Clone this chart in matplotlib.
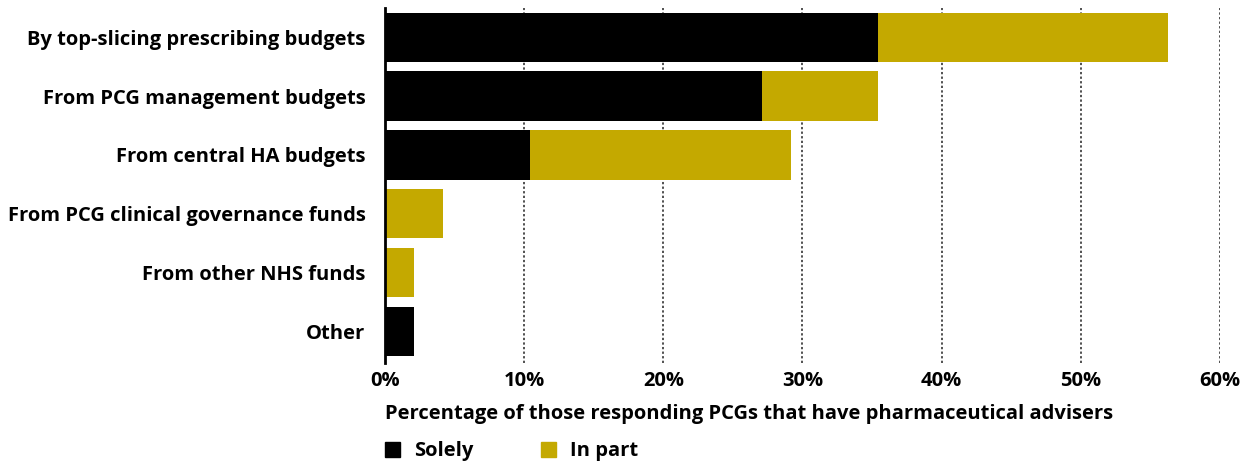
import matplotlib

matplotlib.use("Agg")
import matplotlib.pyplot as plt
import numpy as np
from matplotlib.patches import Patch

plt.rcParams["font.family"] = ["Open Sans", "DejaVu Sans"]
plt.rcParams["font.weight"] = "bold"

# Share of the 48 responding PCGs with pharmaceutical advisers
RESPONDENTS = 48
SOURCES = [
    "By top-slicing prescribing budgets",
    "From PCG management budgets",
    "From central HA budgets",
    "From PCG clinical governance funds",
    "From other NHS funds",
    "Other",
]
SOLELY = [17, 13, 5, 0, 0, 1]
IN_PART = [10, 4, 9, 2, 1, 0]

BLACK = "#000000"
GOLD = "#c4a900"
FS = 14.5

solely_pct = np.array(SOLELY) / RESPONDENTS * 100
in_part_pct = np.array(IN_PART) / RESPONDENTS * 100
y = np.arange(len(SOURCES))

fig = plt.figure(figsize=(12.58, 4.61), dpi=100)
ax = fig.add_axes([0.306, 0.2126, 0.6638, 0.77])

ax.barh(y, solely_pct, height=0.84, color=BLACK, label="Solely", zorder=2)
ax.barh(y, in_part_pct, left=solely_pct, height=0.84, color=GOLD,
        label="In part", zorder=2)

ax.set_xlim(0, 60)
ax.set_ylim(5.54, -0.5)
ax.set_yticks(y)
ax.set_yticklabels(SOURCES, fontsize=FS, fontweight="bold")
ax.set_xticks(np.arange(0, 61, 10))
ax.set_xticklabels([f"{v}%" for v in range(0, 61, 10)], fontsize=FS,
                   fontweight="bold")
ax.tick_params(axis="both", length=0, pad=6)
ax.tick_params(axis="y", pad=14)

ax.grid(axis="x", linestyle=(0, (1.5, 1.5)), color="#222222", linewidth=1.1,
        zorder=0)
ax.set_axisbelow(True)
for side in ("top", "right", "bottom"):
    ax.spines[side].set_visible(False)
ax.spines["left"].set_linewidth(2)
ax.spines["left"].set_zorder(3)

ax.set_xlabel("Percentage of those responding PCGs that have pharmaceutical advisers",
              fontsize=FS, fontweight="bold", loc="left", labelpad=9)

fig.legend(
    handles=[Patch(color=BLACK, label="Solely"), Patch(color=GOLD, label="In part")],
    loc="lower left",
    bbox_to_anchor=(0.3036, -0.007),
    borderpad=0.15,
    borderaxespad=0,
    ncol=2,
    frameon=False,
    fontsize=FS,
    handlelength=0.75,
    handleheight=0.75,
    handletextpad=0.7,
    columnspacing=3.35,
)

fig.savefig("out.png", dpi=100)
